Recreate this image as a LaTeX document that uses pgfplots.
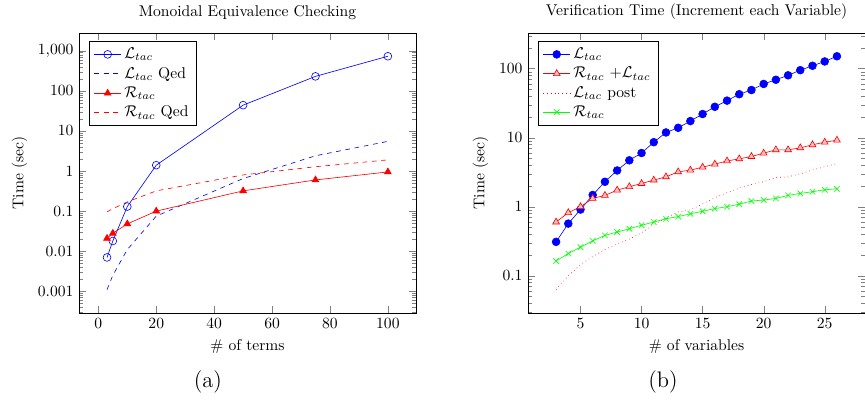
\documentclass[border=0pt]{standalone}
\usepackage{pgfplots}
\pgfplotsset{compat=1.18}
\begin{document}
\begin{tikzpicture}
\pgfplotsset{
  every axis/.append style={
    scale only axis, width=216pt, height=179.5pt,
    ymode=log, log ticks with fixed point,
    legend pos=north west, legend cell align=left,
    title style={yshift=-1pt},
    ylabel={Time (sec)},
  },
}
% (a) terms
\begin{axis}[name=a, title={Monoidal Equivalence Checking}, xlabel={\# of terms}]
\addplot[blue, mark=o, mark size=2.5pt] coordinates {
  (3,0.007) (5,0.018) (10,0.13) (20,1.4) (50,44) (75,230) (100,730)
};
\addplot[blue, dashed] coordinates {
  (3,0.0011) (5,0.0025) (10,0.011) (20,0.075) (50,0.65) (75,2.4) (100,5.5)
};
\addplot[red, mark=triangle*, mark size=2.5pt] coordinates {
  (3,0.021) (5,0.028) (10,0.048) (20,0.1) (50,0.32) (75,0.6) (100,0.95)
};
\addplot[red, dashed] coordinates {
  (3,0.096) (5,0.115) (10,0.17) (20,0.32) (50,0.8) (75,1.28) (100,1.9)
};
\legend{$\mathcal{L}_{tac}$, $\mathcal{L}_{tac}$ Qed, $\mathcal{R}_{tac}$, $\mathcal{R}_{tac}$ Qed}
\end{axis}
% (b) variables
\begin{axis}[name=b, at={(287.8pt,0)}, title={Verification Time (Increment each Variable)}, xlabel={\# of variables}]
\addplot[blue, mark=*, mark size=2.5pt] coordinates {
  (3,0.31) (4,0.57) (5,0.91) (6,1.48) (7,2.3) (8,3.35) (9,4.7) (10,6.0)
  (11,8.6) (12,11.9) (13,13.9) (14,17.4) (15,22) (16,28) (17,34.4) (18,42.6)
  (19,49) (20,60) (21,69) (22,80) (23,95) (24,110) (25,127) (26,151)
};
\addplot[red, mark=triangle*, mark size=2.5pt, mark options={fill=red!25}] coordinates {
  (3,0.6) (4,0.82) (5,1.0) (6,1.32) (7,1.46) (8,1.74) (9,1.95) (10,2.17)
  (11,2.43) (12,2.71) (13,3.2) (14,3.39) (15,3.74) (16,4.14) (17,4.6) (18,4.94)
  (19,5.34) (20,5.97) (21,6.67) (22,6.67) (23,7.13) (24,7.9) (25,8.6) (26,9.2)
};
\addplot[red, dotted] coordinates {
  (3,0.063) (4,0.1) (5,0.145) (6,0.19) (7,0.24) (8,0.29) (9,0.34) (10,0.42)
  (11,0.55) (12,0.69) (13,0.84) (14,0.9) (15,1.1) (16,1.35) (17,1.6) (18,1.85)
  (19,2.1) (20,2.3) (21,2.65) (22,2.7) (23,3.0) (24,3.4) (25,3.8) (26,4.2)
};
\addplot[green, mark=x, mark size=2.5pt] coordinates {
  (3,0.164) (4,0.21) (5,0.26) (6,0.32) (7,0.385) (8,0.43) (9,0.48) (10,0.54)
  (11,0.6) (12,0.67) (13,0.72) (14,0.79) (15,0.86) (16,0.94) (17,1.0) (18,1.09)
  (19,1.21) (20,1.25) (21,1.32) (22,1.46) (23,1.56) (24,1.65) (25,1.76) (26,1.82)
};
\legend{$\mathcal{L}_{tac}$, $\mathcal{R}_{tac}$ $+\mathcal{L}_{tac}$, $\mathcal{L}_{tac}$ post, $\mathcal{R}_{tac}$}
\end{axis}
\node[font=\Large] at (82.7pt,-44pt) {(a)};
\node[font=\Large] at (374.4pt,-44pt) {(b)};
\pgfresetboundingbox
\path[use as bounding box] (-50.6pt,-56.4pt) rectangle (503.8pt,200.6pt);
\end{tikzpicture}
\end{document}
